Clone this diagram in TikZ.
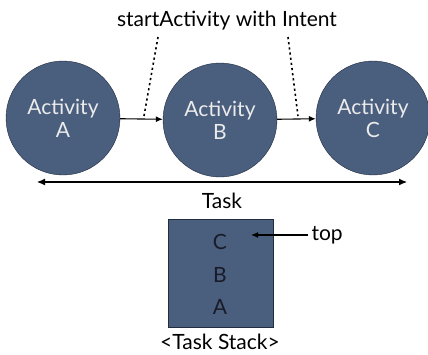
\documentclass[tikz,border=0pt]{standalone}
\usepackage{fontspec}
\setmainfont{Lato}
\usetikzlibrary{arrows.meta, positioning}
\definecolor{actblue}{RGB}{74, 94, 126}
\definecolor{actedge}{RGB}{35, 45, 65}
\definecolor{stackink}{RGB}{25, 28, 40}

\begin{document}
\begin{tikzpicture}[x=1pt, y=-1pt,
  every node/.style={font=\fontsize{21}{23}\selectfont},
  actnode/.style={circle, draw=actedge, fill=actblue, minimum size=114pt, inner sep=0pt, align=center, text=white!92!black},
  link/.style={-{Latex[length=7pt, width=6pt]}, line width=1.1pt},
  note/.style={dash pattern=on 2.2pt off 3pt, line width=1.6pt}
]
  \useasboundingbox (0,0) rectangle (428,354);

  % activities
  \node[actnode] (actA) at (63,118) {Activity\\A};
  \node[actnode] (actB) at (220,120) {Activity\\B};
  \node[actnode] (actC) at (373,118) {Activity\\C};
  \draw[link] (actA) -- (actB);
  \draw[link] (actB) -- (actC);

  % startActivity note
  \node (intent) at (227,21) {startActivity with Intent};
  \coordinate (noteA) at (158,37);
  \coordinate (noteB) at (288,37);
  \coordinate (hitA) at (144,116);
  \coordinate (hitB) at (298,116);
  \draw[note] (noteA) -- (hitA);
  \draw[note] (noteB) -- (hitB);

  % task span
  \coordinate (spanL) at (37,182);
  \coordinate (spanR) at (407,182);
  \draw[{Latex[length=8pt, width=7pt]}-{Latex[length=8pt, width=7pt]}, line width=1.1pt] (spanL) -- (spanR);
  \node (task) at (222,201) {Task};

  % task stack
  \node[draw=actedge, fill=actblue, minimum width=105pt, minimum height=108pt] (stack) at (220.5,273) {};
  \node[text=stackink] (stC) at (220,242) {C};
  \node[text=stackink] (stB) at (220,275) {B};
  \node[text=stackink] (stA) at (220,307) {A};
  \node[anchor=west] (top) at (308,235) {top};
  \draw[link] (top.west) -- ++(-57,0) coordinate (topTip);
  \node (stackname) at (220,342) {<Task Stack>};
\end{tikzpicture}
\end{document}
